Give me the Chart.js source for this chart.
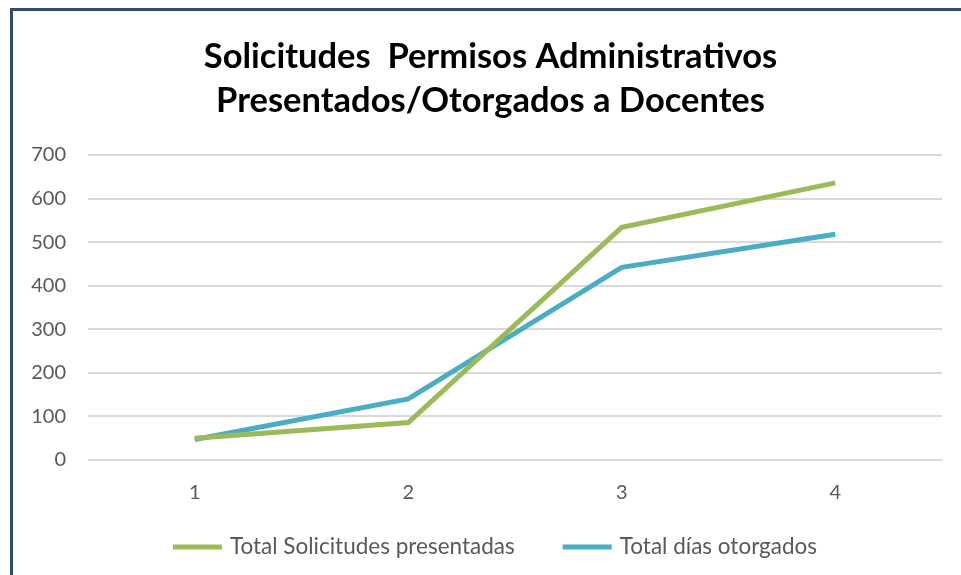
<!DOCTYPE html>
<html>
<head>
<meta charset="utf-8">
<script src="https://cdn.jsdelivr.net/npm/chart.js@4"></script>
<style>
    html, body { margin: 0; padding: 0; background: #fff; overflow: hidden; }
    #wrap { position: relative; width: 961px; height: 575px; }
    #frame {
        position: absolute; left: 10px; top: 8px; width: 1000px; height: 700px;
        border-left: 3px solid #2e4d72; border-top: 3px solid #2e4d72;
        pointer-events: none;
    }
    canvas { position: absolute; left: 0; top: 0; }
</style>
</head>
<body>
<div id="wrap">
    <canvas id="chart" width="961" height="575"></canvas>
    <div id="frame"></div>
</div>
<script>
const categories = ['1', '2', '3', '4'];
const solicitudes = [50, 86, 534, 636];
const diasOtorgados = [47, 140, 442, 518];
const yTicks = [0, 100, 200, 300, 400, 500, 600, 700];

const GREEN = '#9bbb59';
const BLUE = '#4bacc6';
const TEXT = '#595959';
const FONT = 'Lato, "Open Sans", sans-serif';

Chart.defaults.font.family = FONT;
Chart.defaults.color = TEXT;

// legend drawn by hand: Excel puts a wider gap between items than Chart.js allows
const bottomLegend = {
    id: 'bottomLegend',
    afterDraw(chart) {
        const ctx = chart.ctx;
        const boxW = 49, gap = 8, itemGap = 48, y = 547;
        ctx.save();
        ctx.font = '22.5px ' + FONT;
        ctx.textBaseline = 'middle';
        const items = chart.data.datasets.map(ds => ({
            text: ds.label,
            color: ds.borderColor,
            w: boxW + gap + ctx.measureText(ds.label).width
        }));
        const total = items.reduce((s, it) => s + it.w, 0) + itemGap * (items.length - 1);
        let x = 495 - total / 2;
        items.forEach(it => {
            ctx.fillStyle = it.color;
            ctx.fillRect(x, y - 2.5, boxW, 5);
            ctx.fillStyle = TEXT;
            ctx.fillText(it.text, x + boxW + gap, y);
            x += it.w + itemGap;
        });
        ctx.restore();
    }
};

new Chart(document.getElementById('chart'), {
    type: 'line',
    data: {
        labels: categories,
        datasets: [
            {
                label: 'Total Solicitudes presentadas',
                data: solicitudes,
                borderColor: GREEN,
                backgroundColor: GREEN,
                borderWidth: 5,
                pointRadius: 0,
                tension: 0
            },
            {
                label: 'Total días otorgados',
                data: diasOtorgados,
                borderColor: BLUE,
                backgroundColor: BLUE,
                borderWidth: 5,
                pointRadius: 0,
                tension: 0
            }
        ]
    },
    plugins: [bottomLegend],
    options: {
        responsive: false,
        animation: false,
        layout: { padding: { left: 20, right: 0, top: 0, bottom: 70 } },
        plugins: {
            title: {
                display: true,
                text: ['Solicitudes  Permisos Administrativos', 'Presentados/Otorgados a Docentes'],
                color: '#000',
                font: { size: 34.5, weight: 'bold', lineHeight: 1.275 },
                padding: { top: 35, bottom: 32 }
            },
            legend: { display: false },
            tooltip: { enabled: false }
        },
        scales: {
            x: {
                offset: true,
                grid: { display: false, drawTicks: false },
                border: { display: false },
                ticks: { font: { size: 20 }, padding: 21, maxRotation: 0 },
                afterFit: scale => { scale.height = 45; }
            },
            y: {
                min: 0,
                max: 700,
                afterBuildTicks: scale => { scale.ticks = yTicks.map(v => ({ value: v })); },
                grid: { color: '#d9d9d9', lineWidth: 2, drawTicks: false },
                border: { display: false },
                ticks: { font: { size: 20 }, padding: 22 },
                afterFit: scale => { scale.width = 68; }
            },
            // empty right-hand spacer so the title centres on the frame, not the plot
            spacer: {
                type: 'linear',
                position: 'right',
                display: true,
                grid: { display: false, drawTicks: false },
                border: { display: false },
                ticks: { display: false },
                afterFit: scale => { scale.width = 19; }
            }
        }
    }
});
</script>
</body>
</html>
